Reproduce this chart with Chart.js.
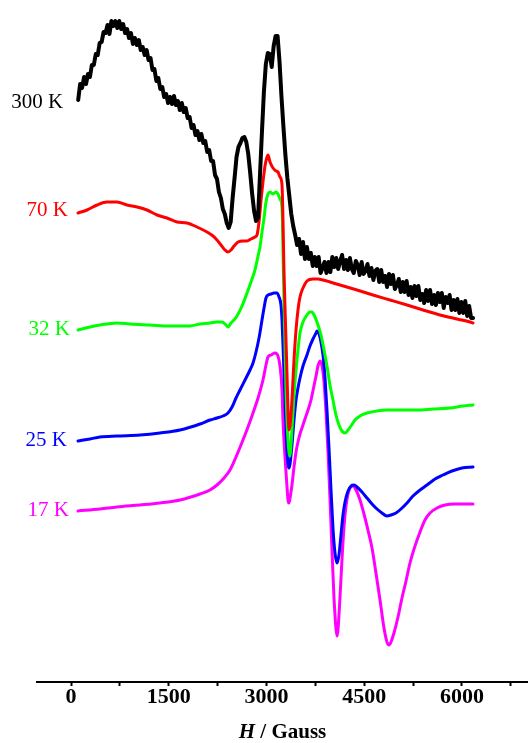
<!DOCTYPE html>
<html>
<head>
<meta charset="utf-8">
<script src="https://cdn.jsdelivr.net/npm/chart.js@4/dist/chart.umd.min.js"></script>
<style>
  html, body { margin: 0; padding: 0; background: #ffffff; }
  canvas { display: block; }
</style>
</head>
<body>
<canvas id="epr" width="528" height="743"></canvas>
<script>
// EPR spectra at several temperatures, stacked with vertical offsets (a.u.)
const temperatures = ['300 K', '70 K', '32 K', '25 K', '17 K'];

// x-axis ticks (Gauss)
const majorTicks = [0, 1500, 3000, 4500, 6000];
const minorTicks = [750, 2250, 3750, 5250, 6750];

// 300 K: recorded on a uniform field grid
const field300Start = 110;
const field300Step = 30;
const signal300 = [
  58.2, 59.8, 59.4, 60.5, 59.8, 60.8, 60.5, 61.7, 61.7, 62.8,
  62.7, 63.9, 64.0, 65.0, 64.9, 65.7, 64.8, 66.1, 65.6, 66.1,
  65.4, 66.1, 65.3, 65.8, 64.9, 65.3, 64.4, 64.9, 63.8, 64.4,
  63.7, 64.2, 63.2, 63.5, 62.7, 63.2, 62.2, 62.4, 61.2, 61.3,
  60.1, 60.4, 59.3, 59.5, 58.5, 58.8, 57.9, 58.5, 57.8, 58.6,
  57.7, 58.1, 57.2, 57.9, 57.0, 57.4, 56.4, 56.5, 55.4, 55.7,
  54.7, 55.1, 54.2, 54.8, 53.9, 54.1, 53.0, 53.2, 52.1, 52.1,
  50.7, 50.3, 49.0, 48.4, 47.3, 46.8, 45.9, 45.4, 46.0, 48.4,
  50.4, 52.5, 53.5, 53.9, 54.4, 54.5, 54.0, 52.8, 50.9, 48.8,
  47.1, 46.1, 46.4, 50.7, 55.0, 59.0, 61.8, 62.9, 62.8, 61.5,
  63.6, 64.6, 64.6, 62.0, 58.5, 55.5, 52.7, 50.4, 48.6, 46.8,
  45.6, 44.7, 43.7, 44.3, 42.8, 44.0, 42.3, 43.5, 42.3, 42.9,
  41.6, 42.5, 41.6, 42.5, 40.9, 41.4, 42.0, 40.9, 42.0, 41.0,
  42.5, 41.5, 42.4, 41.3, 42.1, 42.7, 41.3, 42.2, 41.2, 42.4,
  41.3, 40.9, 42.1, 41.7, 40.7, 42.0, 40.8, 41.1, 41.8, 40.6,
  41.4, 40.2, 41.1, 41.3, 40.0, 41.2, 40.0, 40.6, 39.5, 40.8,
  39.8, 40.7, 39.3, 39.7, 40.3, 39.0, 40.0, 39.0, 40.1, 38.7,
  39.5, 38.4, 39.6, 38.6, 39.6, 38.2, 38.8, 37.9, 39.2, 38.1,
  39.2, 37.8, 38.7, 37.7, 38.9, 38.0, 38.9, 37.4, 38.5, 37.9,
  38.7, 37.2, 38.2, 37.2, 38.3, 36.9, 38.0, 36.9, 38.1, 36.6,
  37.6, 36.4, 36.4
];
const field300 = signal300.map((_, i) => field300Start + field300Step * i);

// 70 K
const field70 = [107, 246, 399, 552, 706, 859, 1013, 1166, 1320, 1473, 1626, 1780, 1933, 2087,
  2179, 2240, 2302, 2363, 2409, 2455, 2501, 2563, 2639, 2701, 2762, 2823, 2854, 2885, 2916,
  2946, 2977, 3008, 3023, 3054, 3100, 3146, 3176, 3207, 3238, 3253, 3268, 3284, 3299, 3314,
  3330, 3345, 3361, 3376, 3391, 3422, 3453, 3483, 3514, 3560, 3621, 3713, 3790, 3867, 3974,
  4128, 4389, 4634, 4895, 5156, 5402, 5662, 5923, 6123, 6169];
const signal70 = [46.9, 47.2, 47.7, 48.0, 48.0, 47.7, 47.5, 47.2, 46.7, 46.4, 46.0, 45.9, 45.5, 45.0,
  44.6, 44.2, 43.7, 43.2, 43.0, 43.2, 43.6, 44.0, 44.1, 44.1, 44.3, 44.5, 44.7, 46.0, 48.2,
  50.0, 51.6, 52.5, 52.7, 52.0, 51.4, 51.1, 51.0, 50.5, 49.7, 46.2, 41.2, 37.5, 34.2, 30.9,
  27.2, 25.2, 25.7, 26.7, 28.2, 32.2, 35.2, 37.2, 38.5, 39.4, 40.1, 40.3, 40.3, 40.2, 40.0,
  39.7, 39.2, 38.7, 38.2, 37.7, 37.2, 36.7, 36.3, 36.0, 35.9];

// 32 K
const field32 = [107, 292, 445, 706, 905, 1212, 1519, 1826, 1980, 2133, 2240, 2317, 2379, 2409,
  2455, 2501, 2547, 2624, 2701, 2762, 2823, 2870, 2900, 2931, 2962, 2992, 3023, 3054, 3100,
  3146, 3176, 3207, 3238, 3253, 3268, 3284, 3299, 3315, 3330, 3345, 3361, 3376, 3391, 3422,
  3453, 3483, 3514, 3560, 3621, 3667, 3698, 3744, 3790, 3836, 3883, 3928, 3974, 4020, 4066,
  4112, 4158, 4205, 4251, 4297, 4358, 4435, 4542, 4696, 4849, 5049, 5309, 5555, 5816, 6015, 6169];
const signal32 = [35.2, 35.5, 35.7, 35.9, 35.8, 35.7, 35.6, 35.6, 35.8, 35.9, 36.0, 36.0, 35.7, 35.5,
  35.9, 36.2, 36.6, 37.6, 38.9, 40.0, 41.2, 42.6, 43.5, 45.0, 46.4, 48.0, 48.8, 49.0, 48.8,
  49.0, 48.8, 48.3, 47.4, 43.2, 38.2, 33.7, 29.2, 26.2, 24.2, 23.0, 22.6, 23.7, 25.2, 28.7,
  31.2, 33.2, 34.9, 36.0, 36.7, 37.0, 37.0, 36.5, 35.7, 34.7, 33.2, 31.6, 29.7, 28.2, 26.7,
  25.7, 25.1, 24.9, 25.2, 25.6, 26.2, 26.6, 26.9, 27.1, 27.2, 27.2, 27.2, 27.3, 27.4, 27.6, 27.7];

// 25 K
const field25 = [107, 292, 445, 706, 1059, 1366, 1673, 1980, 2133, 2240, 2332, 2409, 2471, 2532,
  2593, 2670, 2747, 2793, 2839, 2885, 2931, 2962, 2992, 3023, 3069, 3115, 3161, 3192, 3222,
  3238, 3253, 3268, 3284, 3299, 3315, 3330, 3345, 3361, 3376, 3391, 3422, 3453, 3483, 3514,
  3560, 3621, 3667, 3713, 3760, 3775, 3806, 3836, 3867, 3898, 3928, 3959, 3990, 4020, 4051,
  4082, 4112, 4143, 4174, 4205, 4251, 4297, 4343, 4389, 4465, 4542, 4619, 4696, 4772, 4849,
  4910, 4987, 5064, 5156, 5248, 5356, 5463, 5586, 5708, 5846, 6000, 6169];
const signal25 = [24.1, 24.3, 24.5, 24.6, 24.7, 24.9, 25.2, 25.8, 26.2, 26.4, 26.6, 26.9, 27.5, 28.4,
  29.2, 30.2, 31.2, 31.9, 33.0, 34.4, 36.2, 37.4, 38.4, 38.7, 38.8, 38.9, 38.9, 38.5, 37.7,
  36.2, 33.7, 31.0, 28.0, 25.2, 23.0, 21.8, 21.4, 21.8, 22.7, 23.7, 26.2, 28.2, 29.4, 30.4,
  31.6, 32.7, 33.6, 34.3, 34.9, 35.1, 34.8, 34.0, 32.7, 30.4, 27.2, 23.4, 19.2, 15.4, 12.9,
  11.9, 12.7, 14.7, 16.7, 18.0, 19.1, 19.6, 19.7, 19.5, 19.0, 18.4, 17.8, 17.3, 16.9, 16.6,
  16.7, 16.9, 17.3, 17.9, 18.6, 19.2, 19.7, 20.3, 20.7, 21.1, 21.4, 21.5];

// 17 K
const field17 = [107, 445, 706, 1059, 1366, 1673, 1980, 2133, 2240, 2348, 2440, 2532, 2639, 2716,
  2793, 2870, 2946, 2992, 3023, 3069, 3130, 3176, 3207, 3238, 3253, 3268, 3284, 3299, 3315,
  3330, 3345, 3361, 3376, 3391, 3422, 3453, 3483, 3514, 3575, 3637, 3683, 3728, 3760, 3790,
  3821, 3852, 3883, 3913, 3944, 3974, 4005, 4036, 4066, 4082, 4097, 4128, 4158, 4189, 4220,
  4251, 4281, 4327, 4374, 4435, 4496, 4557, 4619, 4680, 4742, 4803, 4849, 4880, 4910, 4956,
  5018, 5079, 5141, 5202, 5279, 5356, 5432, 5509, 5616, 5739, 5892, 6046, 6169];
const signal17 = [17.1, 17.3, 17.5, 17.7, 17.9, 18.2, 18.8, 19.2, 19.7, 20.4, 21.2, 22.5, 24.2, 25.5,
  26.9, 28.4, 30.2, 31.7, 32.5, 32.7, 32.9, 32.6, 31.6, 29.2, 26.2, 24.2, 22.5, 21.0, 19.5,
  18.2, 17.9, 18.4, 19.0, 19.7, 21.5, 23.0, 24.0, 24.8, 26.0, 27.2, 28.2, 29.6, 30.6, 31.6,
  32.1, 31.6, 30.0, 27.0, 23.0, 18.4, 13.2, 8.4, 5.4, 4.6, 5.2, 8.5, 12.2, 15.5, 17.6,
  18.8, 19.4, 19.6, 19.2, 18.2, 16.8, 15.2, 13.4, 10.9, 8.2, 5.4, 4.0, 3.7, 4.0, 4.9,
  6.5, 8.4, 10.1, 11.9, 13.6, 15.0, 16.2, 16.9, 17.4, 17.7, 17.8, 17.8, 17.8];

const toPoints = (xs, ys) => xs.map((x, i) => ({ x: x, y: ys[i] }));

const serif = '"Liberation Serif", "Times New Roman", Times, serif';

// Temperature captions placed at the left end of each trace
const traceLabels = {
  id: 'traceLabels',
  afterDatasetsDraw(chart) {
    const ctx = chart.ctx;
    ctx.save();
    ctx.font = '21px ' + serif;
    ctx.textAlign = 'right';
    ctx.textBaseline = 'middle';
    chart.data.datasets.forEach((ds, i) => {
      const first = chart.getDatasetMeta(i).data[0];
      if (!first) return;
      ctx.fillStyle = ds.borderColor;
      ctx.fillText(ds.label, first.x - ds.labelGap, first.y + ds.labelDy);
    });
    ctx.restore();
  }
};

// Axis title with an italic field symbol
const fieldTitle = {
  id: 'fieldTitle',
  afterDraw(chart) {
    const ctx = chart.ctx;
    const area = chart.chartArea;
    const parts = [
      { text: 'H', font: 'italic bold 21px ' + serif },
      { text: ' / Gauss', font: 'bold 21px ' + serif }
    ];
    ctx.save();
    let total = 0;
    parts.forEach(p => { ctx.font = p.font; p.w = ctx.measureText(p.text).width; total += p.w; });
    let x = (area.left + area.right) / 2 - total / 2;
    const y = chart.height - 5;
    ctx.fillStyle = '#000';
    ctx.textAlign = 'left';
    ctx.textBaseline = 'alphabetic';
    parts.forEach(p => { ctx.font = p.font; ctx.fillText(p.text, x, y); x += p.w; });
    ctx.restore();
  }
};

const colours = ['#000000', '#ff0000', '#00ff00', '#0000ff', '#ff00ff'];
const series = [
  toPoints(field300, signal300),
  toPoints(field70, signal70),
  toPoints(field32, signal32),
  toPoints(field25, signal25),
  toPoints(field17, signal17)
];
const widths = [4, 3, 3, 3, 3];
const gaps = [15, 10, 8, 11, 9];
const shifts = [2, -3, -1, -1, -1];

const datasets = series.map((pts, i) => ({
  label: temperatures[i],
  data: pts,
  borderColor: colours[i],
  backgroundColor: colours[i],
  borderWidth: widths[i],
  pointRadius: 0,
  fill: false,
  tension: i === 0 ? 0 : 0.4,
  cubicInterpolationMode: i === 0 ? 'default' : 'monotone',
  borderJoinStyle: 'round',
  borderCapStyle: 'round',
  labelGap: gaps[i],
  labelDy: shifts[i]
}));

new Chart(document.getElementById('epr'), {
  type: 'line',
  data: { datasets: datasets },
  options: {
    responsive: false,
    animation: false,
    devicePixelRatio: 1,
    layout: { padding: { left: 37, right: 0, top: 0, bottom: 0 } },
    plugins: {
      legend: { display: false },
      tooltip: { enabled: false },
      title: { display: false }
    },
    scales: {
      x: {
        type: 'linear',
        min: -522,
        max: 7013,
        afterBuildTicks: (scale) => {
          scale.ticks = majorTicks.concat(minorTicks).sort((a, b) => a - b).map(v => ({ value: v }));
        },
        afterFit: (scale) => { scale.height = 61; },
        ticks: {
          autoSkip: false,
          maxRotation: 0,
          padding: -2,
          color: '#000',
          font: { family: serif, size: 22, weight: 'bold' },
          callback: (v) => majorTicks.includes(v) ? String(v) : ''
        },
        grid: {
          display: true,
          drawOnChartArea: false,
          drawTicks: true,
          tickLength: 4,
          tickWidth: 2,
          tickColor: '#000',
          color: '#000'
        },
        border: { display: true, color: '#000', width: 2 }
      },
      y: {
        type: 'linear',
        display: false,
        min: 0,
        max: 68.2
      }
    }
  },
  plugins: [traceLabels, fieldTitle]
});
</script>
</body>
</html>
